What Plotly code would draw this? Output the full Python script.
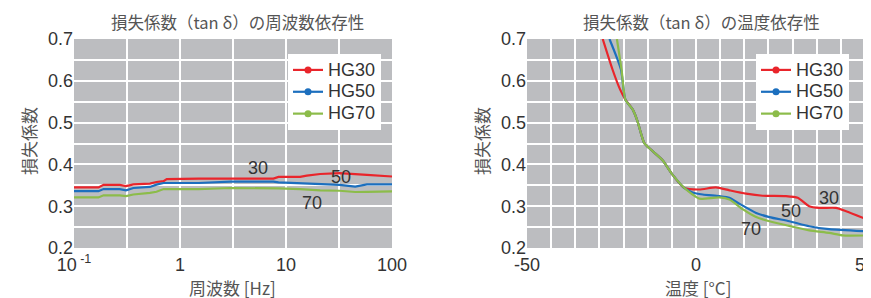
import math
import plotly.graph_objects as go

# ---------------- data: frequency dependence ----------------
freq_hz = [0.1, 0.17, 0.19, 0.27, 0.31, 0.363, 0.52, 0.60, 0.70, 0.75, 1.5, 3, 5, 7.6, 8.5, 13.6, 15.7, 21, 32, 45, 58, 100]
hg30_f = [0.345, 0.345, 0.351, 0.351, 0.348, 0.352, 0.354, 0.358, 0.360, 0.365, 0.366, 0.366, 0.366, 0.366, 0.370, 0.370, 0.373, 0.377, 0.379, 0.376, 0.375, 0.371]
hg50_f = [0.336, 0.336, 0.341, 0.341, 0.338, 0.3435, 0.346, 0.3515, 0.3555, 0.3555, 0.3555, 0.359, 0.359, 0.359, 0.357, 0.3555, 0.355, 0.354, 0.351, 0.347, 0.352, 0.352]
hg70_f = [0.321, 0.321, 0.326, 0.326, 0.324, 0.328, 0.332, 0.3345, 0.341, 0.341, 0.341, 0.3435, 0.3435, 0.3435, 0.3425, 0.341, 0.3395, 0.338, 0.337, 0.334, 0.3345, 0.3355]

# ---------------- data: temperature dependence ----------------
temp_30 = [-27.6, -24.7, -22.5, -20.9, -18.7, -17.3, -16.3, -15.3, -13.3, -9.9, -6.9, -3.5, 1.0, 5.9, 9.9, 14.8, 19.7, 26.6, 30.1, 33.5, 36.5, 41.4, 44.4, 50]
hg30_t = [0.70, 0.627, 0.58, 0.555, 0.531, 0.503, 0.475, 0.451, 0.435, 0.410, 0.375, 0.344, 0.340, 0.345, 0.338, 0.330, 0.325, 0.324, 0.320, 0.300, 0.296, 0.296, 0.288, 0.270]
temp_50 = [-25.6, -22.2, -20.9, -18.7, -17.3, -16.3, -15.3, -13.3, -9.9, -6.9, -3.5, -1.0, 2.0, 6.9, 9.9, 12.8, 17.8, 21.7, 27.6, 33.5, 39.4, 50]
hg50_t = [0.70, 0.627, 0.555, 0.531, 0.503, 0.475, 0.451, 0.435, 0.410, 0.375, 0.344, 0.333, 0.328, 0.324, 0.320, 0.306, 0.284, 0.274, 0.264, 0.252, 0.245, 0.240]
temp_70 = [-23.4, -22.0, -20.9, -18.7, -17.3, -16.3, -15.3, -13.3, -9.9, -6.9, -3.5, -1.0, 1.0, 6.9, 9.9, 13.8, 17.8, 21.7, 27.6, 33.5, 39.4, 43.4, 50]
hg70_t = [0.70, 0.625, 0.555, 0.531, 0.503, 0.475, 0.451, 0.435, 0.410, 0.375, 0.344, 0.328, 0.318, 0.321, 0.316, 0.293, 0.274, 0.264, 0.253, 0.242, 0.236, 0.230, 0.230]

series_names = ["HG30", "HG50", "HG70"]
colors = ["#E9252B", "#1C6FBE", "#8CBC4A"]

y_tick_vals = [0.2, 0.3, 0.4, 0.5, 0.6, 0.7]
y_tick_text = ["0.2", "0.3", "0.4", "0.5", "0.6", "0.7"]
y_grid_vals = [0.25, 0.3, 0.35, 0.4, 0.45, 0.5, 0.55, 0.6, 0.65]
f_tick_vals = [0.1, 1, 10, 100]
f_tick_text = ["10<sup> -1</sup>", "1", "10", "100"]
f_grid_vals = [0.3162, 1, 3.162, 10, 31.62]
t_tick_vals = [-50, 0, 50]
t_tick_text = ["-50", "0", "50"]
t_grid_vals = [k * 100 / 14 for k in range(-6, 7)]

# labels inside plots
f_label_text = ["30", "50", "70"]
f_label_x = [5.4, 33, 17.6]
f_label_y = [0.391, 0.371, 0.308]
t_label_text = ["30", "50", "70"]
t_label_x = [39.3, 28.1, 16.3]
t_label_y = [0.320, 0.289, 0.245]

NUM_FONT = "Liberation Sans, Arial, Noto Sans CJK JP"
JP_FONT = "Noto Sans CJK JP, Liberation Sans"
GRID = "#FFFFFF"
BG = "#BCBDC0"
W, H = 871, 298
OFF = 8  # page body margin offset


def px_x(p):
    return (p - OFF) / W


def px_y(p):
    return 1 - (p - OFF) / H


fig = go.Figure()

for ys, name, c in zip([hg30_f, hg50_f, hg70_f], series_names, colors):
    fig.add_trace(go.Scatter(x=freq_hz, y=ys, mode="lines", line=dict(color=c, width=2.2),
                             showlegend=False, xaxis="x", yaxis="y", hoverinfo="skip"))
for xs, ys, name, c in zip([temp_30, temp_50, temp_70], [hg30_t, hg50_t, hg70_t], series_names, colors):
    fig.add_trace(go.Scatter(x=xs, y=ys, mode="lines", line=dict(color=c, width=2.2, shape="spline", smoothing=0.6),
                             showlegend=False, xaxis="x2", yaxis="y2", hoverinfo="skip"))

# legend entries
for name, c in zip(series_names, colors):
    fig.add_trace(go.Scatter(x=[None], y=[None], mode="lines+markers",
                             name="<span style='font-size:18px'>" + name + "</span>",
                             line=dict(color=c, width=2.2), marker=dict(color=c, size=7),
                             legend="legend", xaxis="x", yaxis="y"))
for name, c in zip(series_names, colors):
    fig.add_trace(go.Scatter(x=[None], y=[None], mode="lines+markers",
                             name="<span style='font-size:18px'>" + name + "</span>",
                             line=dict(color=c, width=2.2), marker=dict(color=c, size=7),
                             legend="legend2", xaxis="x2", yaxis="y2"))

ydom = [px_y(248), px_y(39)]

yaxis_common = dict(range=[0.2, 0.7], tickvals=y_tick_vals, ticktext=y_tick_text, showgrid=False,
                    zeroline=False, showline=False, ticks="", domain=ydom, automargin=False,
                    tickfont=dict(family=NUM_FONT, size=18, color="#333333"),
                    minor=dict(tickvals=y_grid_vals, showgrid=True, gridcolor=GRID, gridwidth=2, ticks=""))

fig.update_layout(
    template="none",
    width=W, height=H,
    margin=dict(l=0, r=0, t=0, b=0, pad=0, autoexpand=False),
    paper_bgcolor="white", plot_bgcolor=BG,
    showlegend=True,
    xaxis=dict(type="log", range=[-1, 2], domain=[px_x(74), px_x(392)], tickvals=f_tick_vals, ticktext=f_tick_text,
               showgrid=False, zeroline=False, showline=False, ticks="", automargin=False, ticklabelstandoff=4,
               tickfont=dict(family=NUM_FONT, size=18, color="#333333"),
               minor=dict(tickvals=f_grid_vals, showgrid=True, gridcolor=GRID, gridwidth=2, ticks=""),
               anchor="y"),
    yaxis=dict(anchor="x", **yaxis_common),
    xaxis2=dict(range=[-50, 50], domain=[px_x(527), px_x(865)], tickvals=t_tick_vals, ticktext=t_tick_text,
                showgrid=False, zeroline=False, showline=False, ticks="", automargin=False, ticklabelstandoff=4,
                tickfont=dict(family=NUM_FONT, size=18, color="#333333"),
                minor=dict(tickvals=t_grid_vals, showgrid=True, gridcolor=GRID, gridwidth=2, ticks=""),
                anchor="y2"),
    yaxis2=dict(anchor="x2", **yaxis_common),
    legend=dict(x=px_x(288), y=px_y(54), xanchor="left", yanchor="top", bgcolor="white",
                borderwidth=0, font=dict(family=NUM_FONT, size=14.5, color="#333333"), tracegroupgap=0),
    legend2=dict(x=px_x(756), y=px_y(54), xanchor="left", yanchor="top", bgcolor="white",
                 borderwidth=0, font=dict(family=NUM_FONT, size=14.5, color="#333333"), tracegroupgap=0),
)


def paper_text(text, px, py, size, angle=0):
    return dict(text=text, x=px_x(px), y=px_y(py), xref="paper", yref="paper",
                xanchor="center", yanchor="middle", textangle=angle, showarrow=False,
                font=dict(family=JP_FONT, size=size, color="#555555"))


ann = [
    paper_text("損失係数（tan δ）の周波数依存性", 237, 22, 16.5),
    paper_text("損失係数（tan δ）の温度依存性", 701, 22, 16.5),
    paper_text("周波数 [Hz]", 233, 287, 17),
    paper_text("温度 [°C]", 698, 287, 17),
    paper_text("損失係数", 28, 141, 17, -90),
    paper_text("損失係数", 481, 141, 17, -90),
]
for t, xv, yv in zip(f_label_text, f_label_x, f_label_y):
    ann.append(dict(text=t, x=math.log10(xv), y=yv, xref="x", yref="y", showarrow=False,
                    xanchor="center", yanchor="middle",
                    font=dict(family=NUM_FONT, size=18, color="#333333")))
for t, xv, yv in zip(t_label_text, t_label_x, t_label_y):
    ann.append(dict(text=t, x=xv, y=yv, xref="x2", yref="y2", showarrow=False,
                    xanchor="center", yanchor="middle",
                    font=dict(family=NUM_FONT, size=18, color="#333333")))
fig.update_layout(annotations=ann)

fig.write_html("out.html")
